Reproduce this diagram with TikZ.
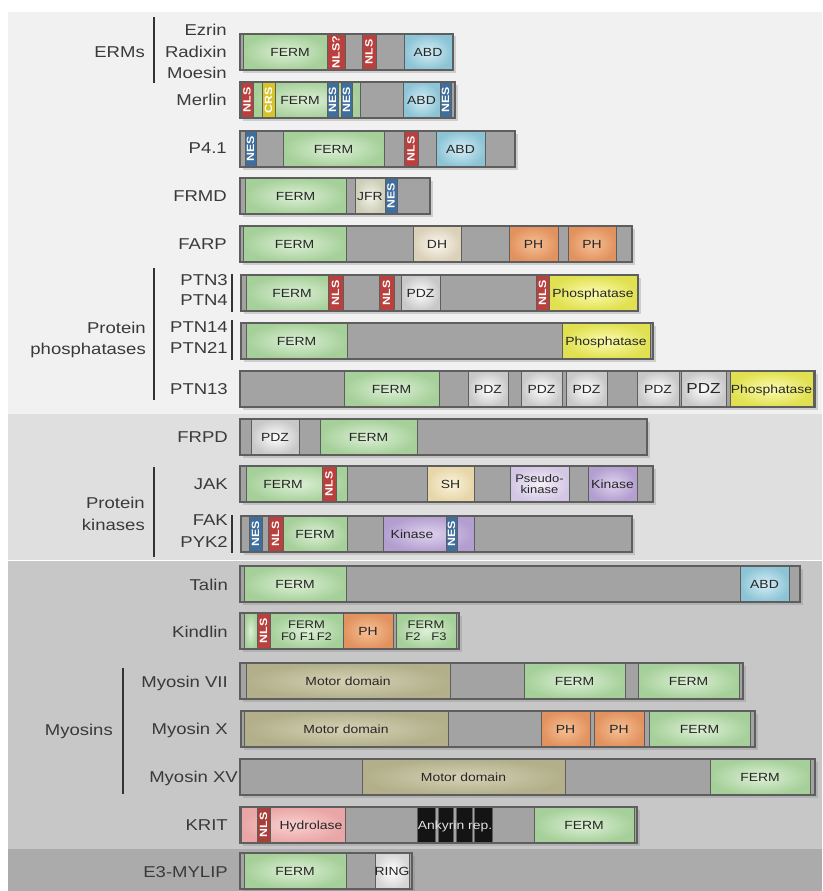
\documentclass[tikz,border=0pt]{standalone}
\usepackage{fontspec}
\setmainfont{Liberation Sans}[FakeStretch=1.18]
\usetikzlibrary{shadows}
\definecolor{bandA}{HTML}{F1F1F1}
\definecolor{bandB}{HTML}{DFDFDF}
\definecolor{bandC}{HTML}{C7C7C7}
\definecolor{bandD}{HTML}{ABABAB}
\definecolor{bbgray}{HTML}{A3A3A3}
\definecolor{edgec}{HTML}{5E5E5E}
\definecolor{labc}{HTML}{3A3A3A}
\definecolor{dtxt}{HTML}{262626}
\definecolor{fermI}{HTML}{DDF0D6}
\definecolor{fermO}{HTML}{A6D09A}
\definecolor{abdI}{HTML}{D6EEF5}
\definecolor{abdO}{HTML}{8CC4D6}
\definecolor{nlsc}{HTML}{B9403C}
\definecolor{nlsdark}{HTML}{A8403A}
\definecolor{nesc}{HTML}{3D6E9E}
\definecolor{crsc}{HTML}{D6C42A}
\definecolor{jfrI}{HTML}{F4F4EA}
\definecolor{jfrO}{HTML}{CDCDB8}
\definecolor{dhI}{HTML}{FBF8F0}
\definecolor{dhO}{HTML}{DBD0B8}
\definecolor{phI}{HTML}{F6C096}
\definecolor{phO}{HTML}{E2925E}
\definecolor{pdzI}{HTML}{FFFFFF}
\definecolor{pdzO}{HTML}{C8C8C8}
\definecolor{phosI}{HTML}{FCFCB0}
\definecolor{phosO}{HTML}{E0E050}
\definecolor{shI}{HTML}{FBF4DC}
\definecolor{shO}{HTML}{E6D6A8}
\definecolor{psI}{HTML}{F4F0FA}
\definecolor{psO}{HTML}{D3C6E4}
\definecolor{kinI}{HTML}{DED2EE}
\definecolor{kinO}{HTML}{B39ED0}
\definecolor{motI}{HTML}{D4D2B5}
\definecolor{motO}{HTML}{B2AF8A}
\definecolor{hydI}{HTML}{F9D0D0}
\definecolor{hydO}{HTML}{EAA6A6}
\definecolor{ringO}{HTML}{D6D6D6}
\newcounter{pn}
\newcommand\prow[3]{\def\cy{#1}\def\xa{#2}\def\xb{#3}%
  \path[bb] (#2,#1-18) rectangle (#3,#1+18);}
\newcommand\pend{\draw[edgeline] (\xa,\cy-18) rectangle (\xb,\cy+18);}
\newcommand\pdm[4]{\path[#3] (#1,\cy-18) rectangle (#2,\cy+18);%
  \stepcounter{pn}\node[dtext] (d\arabic{pn}) at ({(#1+#2)/2},\cy) {#4};}
\newcommand\pdmx[5]{\path[#3] (#1,\cy-18) rectangle (#2,\cy+18);%
  \stepcounter{pn}\node[dtext] (d\arabic{pn}) at (#5,\cy) {#4};}
\newcommand\ptg[4]{\path[dm, fill=#3] (#1,\cy-18) rectangle (#2,\cy+18);%
  \stepcounter{pn}\node[tagtext] (t\arabic{pn}) at ({(#1+#2)/2},\cy) {#4};}
\tikzset{
  bb/.style={fill=bbgray, draw=edgec, line width=1.3pt,
    drop shadow={opacity=0.3, shadow xshift=2.5pt, shadow yshift=-2.5pt}},
  edgeline/.style={draw=edgec, line width=1.4pt},
  dm/.style={draw=edgec, line width=1pt},
  ferm/.style={dm, inner color=fermI, outer color=fermO},
  abd/.style={dm, inner color=abdI, outer color=abdO},
  jfr/.style={dm, inner color=jfrI, outer color=jfrO},
  dh/.style={dm, inner color=dhI, outer color=dhO},
  ph/.style={dm, inner color=phI, outer color=phO},
  pdz/.style={dm, inner color=pdzI, outer color=pdzO},
  phos/.style={dm, inner color=phosI, outer color=phosO},
  sh/.style={dm, inner color=shI, outer color=shO},
  pseudo/.style={dm, inner color=psI, outer color=psO},
  kinase/.style={dm, inner color=kinI, outer color=kinO},
  motor/.style={dm, inner color=motI, outer color=motO},
  hydro/.style={dm, inner color=hydI, outer color=hydO},
  ring/.style={dm, inner color=white, outer color=ringO},
  ank/.style={draw=edgec, line width=0.8pt, fill=black!92},
  dtext/.style={font=\fontsize{11.8}{13}\selectfont, text=dtxt, anchor=base, yshift=-4.2pt, inner sep=0pt},
  dtwo/.style={font=\fontsize{11}{11.5}\selectfont, text=dtxt, align=center, inner sep=0pt},
  tagtext/.style={font=\fontsize{10.5}{11}\bfseries, text=white, rotate=90, inner sep=0pt},
  lab/.style={font=\fontsize{15.7}{17}\selectfont, text=labc, anchor=base east, yshift=-5.6pt, inner sep=0pt},
  grp/.style={font=\fontsize{15.7}{17}\selectfont, text=labc, anchor=base east, yshift=-5.6pt, inner sep=0pt},
  bar/.style={draw=black!80, line width=1.4pt},
}
\begin{document}
\begin{tikzpicture}[x=1pt,y=-1pt]
\useasboundingbox (0,0) rectangle (822,891);
\fill[white] (0,0) rectangle (822,891);
\fill[bandA] (8,12) rectangle (822,414);
\fill[bandB] (8,414) rectangle (822,560);
\fill[bandC] (8,560) rectangle (822,849);
\fill[bandD] (8,849) rectangle (822,891);
\draw[white, line width=0.8pt] (8,560) -- (822,560);
% ---------- labels ----------
\node[grp] (gERM) at (145,52) {ERMs};
\node[lab] (lEz) at (227,30) {Ezrin};
\node[lab] (lRa) at (227,52) {Radixin};
\node[lab] (lMo) at (227,73) {Moesin};
\node[lab] (lMe) at (227,100) {Merlin};
\node[lab] (lP4) at (227,148) {P4.1};
\node[lab] (lFR) at (227,196) {FRMD};
\node[lab] (lFA) at (227,244) {FARP};
\node[lab] (lP3) at (228,280) {PTN3};
\node[lab] (lP4b) at (228,300) {PTN4};
\node[lab] (lP14) at (228,327) {PTN14};
\node[lab] (lP21) at (228,348) {PTN21};
\node[grp] (gPP1) at (146,328) {Protein};
\node[grp] (gPP2) at (146,349) {phosphatases};
\node[lab] (lP13) at (228,389) {PTN13};
\node[lab] (lFRPD) at (228,437) {FRPD};
\node[lab] (lJAK) at (228,484) {JAK};
\node[grp] (gPK1) at (145,503) {Protein};
\node[grp] (gPK2) at (145,525) {kinases};
\node[lab] (lFAK) at (228,520) {FAK};
\node[lab] (lPYK) at (228,542) {PYK2};
\node[lab] (lTa) at (228,585) {Talin};
\node[lab] (lKi) at (228,632) {Kindlin};
\node[grp] (gMy) at (113,730) {Myosins};
\node[lab] (lM7) at (228,682) {Myosin VII};
\node[lab] (lM10) at (228,729) {Myosin X};
\node[lab] (lM15) at (238,777) {Myosin XV};
\node[lab] (lKR) at (228,825) {KRIT};
\node[lab] (lE3) at (228,872) {E3-MYLIP};
% ---------- bars ----------
\draw[bar] (154,17) -- (154,83);
\draw[bar] (232,274) -- (232,312);
\draw[bar] (232,320) -- (232,360);
\draw[bar] (154,268) -- (154,400);
\draw[bar] (154,467) -- (154,557);
\draw[bar] (232,515) -- (232,553);
\draw[bar] (123,668) -- (123,794);
% ---------- ERMs ----------
\prow{52}{240}{453}
\pdmx{243}{327}{ferm}{FERM}{290}
\ptg{327}{345}{nlsc}{NLS?}
\ptg{362}{376}{nlsc}{NLS}
\pdm{404}{452}{abd}{ABD}
\pend
% ---------- Merlin ----------
\prow{100}{240}{455}
\pdmx{253}{360}{ferm}{FERM}{300}
\ptg{241}{253}{nlsc}{NLS}
\ptg{262}{275}{crsc}{CRS}
\ptg{327}{338}{nesc}{NES}
\ptg{341}{352}{nesc}{NES}
\pdm{403}{440}{abd}{ABD}
\ptg{440}{451}{nesc}{NES}
\pend
% ---------- P4.1 ----------
\prow{149}{240}{515}
\ptg{245}{256}{nesc}{NES}
\pdm{283}{384}{ferm}{FERM}
\ptg{404}{418}{nlsc}{NLS}
\pdm{436}{485}{abd}{ABD}
\pend
% ---------- FRMD ----------
\prow{196}{240}{430}
\pdm{245}{346}{ferm}{FERM}
\pdm{355}{385}{jfr}{JFR}
\ptg{385}{397}{nesc}{NES}
\pend
% ---------- FARP ----------
\prow{244}{240}{632}
\pdm{243}{346}{ferm}{FERM}
\pdm{413}{461}{dh}{DH}
\pdm{509}{558}{ph}{PH}
\pdm{568}{616}{ph}{PH}
\pend
% ---------- PTN3/4 ----------
\prow{293}{241}{638}
\pdmx{246}{343}{ferm}{FERM}{292}
\ptg{328}{343}{nlsc}{NLS}
\ptg{379}{394}{nlsc}{NLS}
\pdm{401}{440}{pdz}{PDZ}
\ptg{536}{549}{nlsc}{NLS}
\pdm{549}{637}{phos}{Phosphatase}
\pend
% ---------- PTN14/21 ----------
\prow{341}{241}{653}
\pdm{246}{347}{ferm}{FERM}
\pdm{562}{650}{phos}{Phosphatase}
\pend
% ---------- PTN13 ----------
\prow{389}{240}{815}
\pdm{344}{439}{ferm}{FERM}
\pdm{468}{508}{pdz}{PDZ}
\pdm{521}{562}{pdz}{PDZ}
\pdm{566}{607}{pdz}{PDZ}
\pdm{637}{679}{pdz}{PDZ}
\pdm{681}{726}{pdz}{\fontsize{14.5}{15}\selectfont PDZ}
\pdm{730}{813}{phos}{Phosphatase}
\pend
% ---------- FRPD ----------
\prow{437}{240}{647}
\pdm{251}{299}{pdz}{PDZ}
\pdm{320}{417}{ferm}{FERM}
\pend
% ---------- JAK ----------
\prow{484}{240}{653}
\pdmx{246}{347}{ferm}{FERM}{283}
\ptg{322}{336}{nlsc}{NLS}
\pdm{427}{474}{sh}{SH}
\path[pseudo] (510,466) rectangle (569,502);
\node[dtwo] (dPs) at (539.5,484) {Pseudo-\\kinase};
\pdm{588}{637}{kinase}{Kinase}
\pend
% ---------- FAK/PYK2 ----------
\prow{534}{241}{632}
\ptg{249}{262}{nesc}{NES}
\ptg{268}{283}{nlsc}{NLS}
\pdm{283}{347}{ferm}{FERM}
\pdmx{383}{474}{kinase}{Kinase}{412}
\ptg{446}{457}{nesc}{NES}
\pend
% ---------- Talin ----------
\prow{584}{240}{800}
\pdm{244}{346}{ferm}{FERM}
\pdm{740}{789}{abd}{ABD}
\pend
% ---------- Kindlin ----------
\prow{631}{240}{459}
\path[ferm] (244,613) rectangle (257,649);
\ptg{257}{270}{nlsc}{NLS}
\path[ferm] (270,613) rectangle (343,649);
\node[dtwo] (dK1) at (306.5,631) {FERM\\F0\,\,F1\,F2};
\pdm{343}{393}{ph}{PH}
\path[ferm] (396,613) rectangle (456,649);
\node[dtwo] (dK2) at (426,631) {FERM\\F2\quad F3};
\pend
% ---------- Myosin VII ----------
\prow{681}{240}{743}
\pdm{246}{450}{motor}{Motor domain}
\pdm{524}{625}{ferm}{FERM}
\pdm{638}{739}{ferm}{FERM}
\pend
% ---------- Myosin X ----------
\prow{729}{241}{755}
\pdm{244}{448}{motor}{Motor domain}
\pdm{541}{590}{ph}{PH}
\pdm{594}{644}{ph}{PH}
\pdm{649}{750}{ferm}{FERM}
\pend
% ---------- Myosin XV ----------
\prow{777}{240}{815}
\pdm{362}{565}{motor}{Motor domain}
\pdm{710}{810}{ferm}{FERM}
\pend
% ---------- KRIT ----------
\prow{825}{240}{637}
\pdmx{241}{345}{hydro}{Hydrolase}{311}
\ptg{257}{270}{nlsdark}{NLS}
\path[ank] (417,807) rectangle (435,843);
\path[ank] (438,807) rectangle (453,843);
\path[ank] (456,807) rectangle (472,843);
\path[ank] (474,807) rectangle (492,843);
\node[dtext, text=white!88!black] (dAnk) at (455,825) {Ankyrin rep.};
\pdm{534}{634}{ferm}{FERM}
\pend
% ---------- E3-MYLIP ----------
\prow{871}{240}{412}
\pdm{244}{346}{ferm}{FERM}
\pdm{375}{409}{ring}{RING}
\pend
\end{tikzpicture}
\end{document}
